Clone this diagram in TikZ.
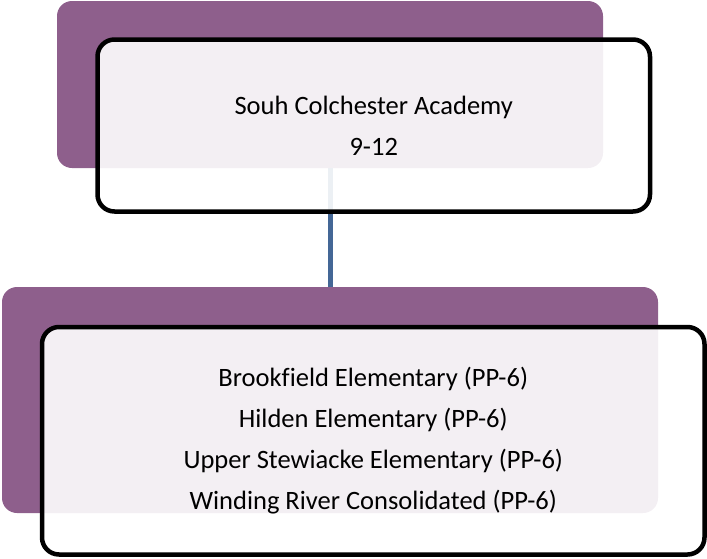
\documentclass[tikz,border=0pt]{standalone}
\usepackage{fontspec}
\setmainfont{Carlito}[Ligatures=CommonOff]
\usetikzlibrary{positioning}
\definecolor{orgPurple}{RGB}{142,95,140}
\definecolor{orgBlue}{RGB}{68,103,150}

\begin{document}
\begin{tikzpicture}[x=1pt, y=-1pt,
    back/.style={rectangle, rounded corners=15pt, fill=orgPurple,
                 inner sep=0pt},
    front/.style={rectangle, rounded corners=17pt, draw=black, line width=4.5pt,
                  fill=white, fill opacity=0.9, text opacity=1, inner sep=0pt,
                  align=center, font=\fontsize{26.5}{41}\selectfont},
    link/.style={line width=5pt, orgBlue}
  ]
  \useasboundingbox (0,0) rectangle (707,558);

  % Purple backs
  \node[back, minimum width=546pt, minimum height=167pt] (topback) at (330,84.5) {};
  \node[back, minimum width=656pt, minimum height=226pt] (subback) at (330,400) {};
  \draw[link] (topback.south) -- (subback.north);

  % Academy
  \node[front, minimum width=552.5pt, minimum height=172pt] (academy) at (373.75,125.5)
    {Souh Colchester Academy\\9-12};

  % Schools
  \node[front, minimum width=662.5pt, minimum height=227.5pt] (schools) at (373.25,440.75)
    {Brookfield Elementary (PP-6)\\Hilden Elementary (PP-6)\\
     Upper Stewiacke Elementary (PP-6)\\Winding River Consolidated (PP-6)};
\end{tikzpicture}
\end{document}
